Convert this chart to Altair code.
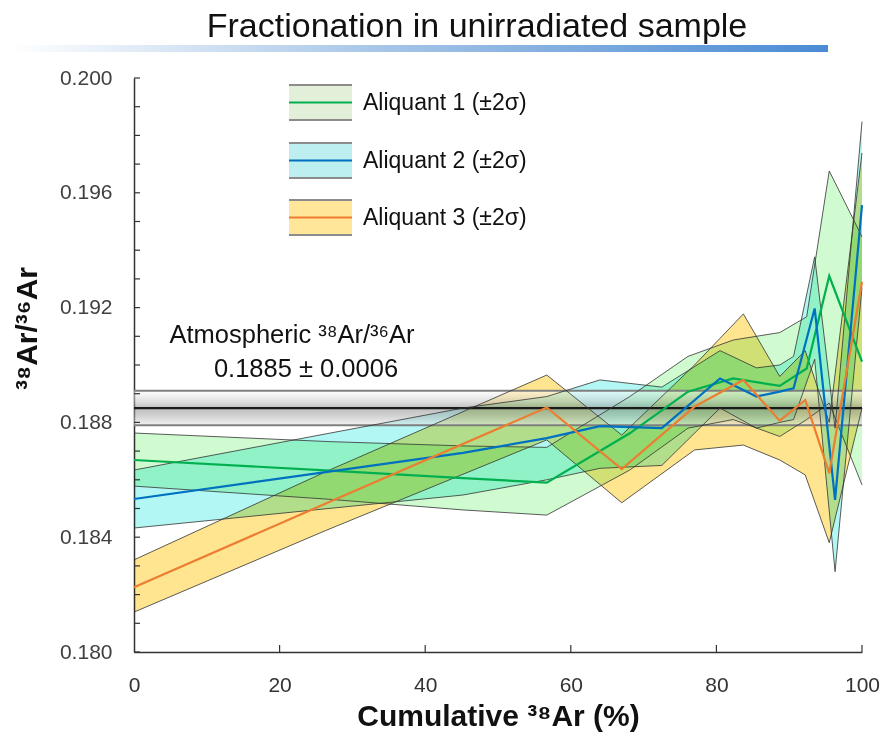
import altair as alt
import pandas as pd

# ---------------- data ----------------
a1_x = [0, 26.9, 45.2, 56.7, 68.1, 76.1, 82.3, 88.7, 92.4, 95.5, 100]
a1_y = [0.18669, 0.18632, 0.18606, 0.18590, 0.18762, 0.18907, 0.18953, 0.18927, 0.18988, 0.19310, 0.19012]
a1_hi = [0.18763, 0.18733, 0.18718, 0.18713, 0.18890, 0.19030, 0.19087, 0.19113, 0.19168, 0.19676, 0.19447]
a1_lo = [0.18578, 0.18532, 0.18495, 0.18477, 0.18634, 0.18780, 0.18810, 0.18751, 0.18810, 0.18867, 0.18582]

a2_x = [0, 45.2, 56.7, 64.0, 72.5, 80.5, 85.5, 88.7, 90.6, 93.5, 96.3, 100]
a2_y = [0.18533, 0.18694, 0.18745, 0.18787, 0.18780, 0.18953, 0.18890, 0.18907, 0.18919, 0.19197, 0.18530, 0.19557]
a2_hi = [0.18634, 0.18850, 0.18890, 0.18948, 0.18923, 0.19050, 0.18990, 0.19000, 0.19030, 0.19377, 0.18780, 0.19848]
a2_lo = [0.18432, 0.18547, 0.18600, 0.18640, 0.18650, 0.18850, 0.18780, 0.18800, 0.18810, 0.19020, 0.18280, 0.19270]

a3_x = [0, 26.5, 56.7, 67.0, 77.0, 83.7, 88.7, 92.2, 95.5, 100]
a3_y = [0.18226, 0.18519, 0.18852, 0.18637, 0.18855, 0.18948, 0.18806, 0.18878, 0.18623, 0.19290]
a3_hi = [0.18321, 0.18630, 0.18965, 0.18756, 0.19000, 0.19178, 0.18960, 0.19050, 0.18800, 0.19739]
a3_lo = [0.18139, 0.18425, 0.18739, 0.18520, 0.18704, 0.18721, 0.18669, 0.18617, 0.18381, 0.18850]

series_names = ["Aliquant 1 (±2σ)", "Aliquant 2 (±2σ)", "Aliquant 3 (±2σ)"]
fill_colors = ["#d0fad0", "#b2f7f4", "#ffe590"]
legend_fills = ["#e2efd9", "#bdeff0", "#ffe699"]
line_colors = ["#00b050", "#0070c0", "#ed7d31"]

atm_value = 0.1885
atm_err = 0.0006

x_tick_values = [0, 20, 40, 60, 80, 100]
x_inner_ticks = [20, 40, 60, 80, 100]
y_label_values = [0.180, 0.184, 0.188, 0.192, 0.196, 0.200]
y_minor_ticks = [0.180, 0.181, 0.182, 0.183, 0.184, 0.185, 0.186, 0.187, 0.188, 0.189, 0.190,
                 0.191, 0.192, 0.193, 0.194, 0.195, 0.196, 0.197, 0.198, 0.199, 0.200]

# ---------------- tables ----------------
frames = []
for name, xs, ys, his, los in zip(series_names, [a1_x, a2_x, a3_x], [a1_y, a2_y, a3_y],
                                   [a1_hi, a2_hi, a3_hi], [a1_lo, a2_lo, a3_lo]):
    frames.append(pd.DataFrame({"series": name, "x": xs, "y": ys, "hi": his, "lo": los}))
df = pd.concat(frames, ignore_index=True)

W, H = 728, 574
FONT = "Liberation Sans"
XS = alt.Scale(domain=[0, 100], nice=False, zero=False)
YS = alt.Scale(domain=[0.18, 0.2], nice=False, zero=False)

x_axis = alt.Axis(values=x_tick_values, format="d", ticks=False, grid=False,
                  title="Cumulative ³⁸Ar (%)", labelFontSize=21, labelPadding=22,
                  labelFont=FONT, labelColor="#333333", labelFlush=False,
                  titleFont=FONT, titleFontSize=30, titleFontWeight="bold", titleColor="#111111",
                  titlePadding=6, domainColor="#333333", domainWidth=1.5)
y_axis = alt.Axis(values=y_label_values, format=".3f", ticks=False, grid=False,
                  title="³⁸Ar/³⁶Ar", labelFontSize=21, labelPadding=22, labelFont=FONT,
                  labelColor="#404040", labelFlush=False,
                  titleFont=FONT, titleFontSize=30, titleFontWeight="bold", titleColor="#111111",
                  titleAngle=-90, titleX=-92, titleY=250, titleAlign="center",
                  domainColor="#333333", domainWidth=1.5)


def X(field):
    return alt.X(field, type="quantitative", scale=XS, axis=x_axis)


def Y(field):
    return alt.Y(field, type="quantitative", scale=YS, axis=y_axis)


color_fill = alt.Color("series:N", scale=alt.Scale(domain=series_names, range=fill_colors), legend=None)
color_line = alt.Color("series:N", scale=alt.Scale(domain=series_names, range=line_colors), legend=None)

base = alt.Chart(df)

areas = base.mark_area(blend="multiply", opacity=1).encode(
    x=X("x"), y=Y("lo"), y2="hi:Q", fill=color_fill, detail="series:N")

outline_hi = base.mark_line(color="#333333", strokeWidth=1, opacity=0.8).encode(
    x=X("x"), y=Y("hi"), detail="series:N")
outline_lo = base.mark_line(color="#333333", strokeWidth=1, opacity=0.8).encode(
    x=X("x"), y=Y("lo"), detail="series:N")

centers = base.mark_line(strokeWidth=2.2).encode(
    x=X("x"), y=Y("y"), color=color_line, order=alt.Order("x:Q"))

# atmospheric band
atm = pd.DataFrame({"x0": [0], "x1": [100], "lo": [atm_value - atm_err], "mid": [atm_value],
                    "hi": [atm_value + atm_err]})
atm_band = alt.Chart(atm).mark_rect(
    fill=alt.Gradient(gradient="linear", x1=0, x2=0, y1=0, y2=1,
                      stops=[alt.GradientStop(offset=0, color="#ffffff"),
                             alt.GradientStop(offset=0.3, color="#c8c8c8"),
                             alt.GradientStop(offset=0.5, color="#8a8a8a"),
                             alt.GradientStop(offset=0.7, color="#a8a8a8"),
                             alt.GradientStop(offset=1, color="#e8e8e8")]),
    opacity=0.55).encode(x=X("x0"), x2="x1:Q", y=Y("lo"), y2="hi:Q")
atm_hi = alt.Chart(atm).mark_rule(color="#7f7f7f", strokeWidth=2).encode(x=X("x0"), x2="x1:Q", y=Y("hi"))
atm_lo = alt.Chart(atm).mark_rule(color="#7f7f7f", strokeWidth=2).encode(x=X("x0"), x2="x1:Q", y=Y("lo"))
atm_mid = alt.Chart(atm).mark_rule(color="#1a1a1a", strokeWidth=2.2).encode(x=X("x0"), x2="x1:Q", y=Y("mid"))

# inward ticks
yt = alt.Chart(pd.DataFrame({"t": y_minor_ticks})).mark_rule(color="#333333", strokeWidth=1.2).encode(
    y=Y("t"), x=alt.value(0), x2=alt.value(6))
xt = alt.Chart(pd.DataFrame({"t": x_inner_ticks})).mark_rule(color="#333333", strokeWidth=1.2).encode(
    x=X("t"), y=alt.value(H), y2=alt.value(H - 7))

one = pd.DataFrame({"t": [""]})

# title + gradient underline
title = alt.Chart(pd.DataFrame({"t": ["Fractionation in unirradiated sample"]})).mark_text(
    font=FONT, fontSize=34, color="#111111", align="center", baseline="alphabetic").encode(
    x=alt.value(343), y=alt.value(-41), text="t:N")
underline = alt.Chart(one).mark_rect(
    fill=alt.Gradient(gradient="linear", x1=0, x2=1, y1=0, y2=0,
                      stops=[alt.GradientStop(offset=0, color="#ffffff"),
                             alt.GradientStop(offset=0.45, color="#a7c6e8"),
                             alt.GradientStop(offset=1, color="#4a8bd4")])).encode(
    x=alt.value(-124), x2=alt.value(694), y=alt.value(-33), y2=alt.value(-26))

# annotation
ann1 = alt.Chart(pd.DataFrame({"t": ["Atmospheric ³⁸Ar/³⁶Ar"]})).mark_text(
    font=FONT, fontSize=25.5, color="#111111", align="center").encode(
    x=alt.value(158), y=alt.value(257), text="t:N")
ann2 = alt.Chart(pd.DataFrame({"t": ["0.1885 ± 0.0006"]})).mark_text(
    font=FONT, fontSize=25.5, color="#111111", align="center").encode(
    x=alt.value(172), y=alt.value(291), text="t:N")

# custom legend
legend_layers = []
tops = [7, 65, 122]
for name, lf, lc, top in zip(series_names, legend_fills, line_colors, tops):
    legend_layers.append(alt.Chart(one).mark_rect(fill=lf).encode(
        x=alt.value(155), x2=alt.value(218), y=alt.value(top), y2=alt.value(top + 35)))
    legend_layers.append(alt.Chart(one).mark_rule(color="#8c8c8c", strokeWidth=1.8).encode(
        x=alt.value(155), x2=alt.value(218), y=alt.value(top)))
    legend_layers.append(alt.Chart(one).mark_rule(color="#8c8c8c", strokeWidth=1.8).encode(
        x=alt.value(155), x2=alt.value(218), y=alt.value(top + 35)))
    legend_layers.append(alt.Chart(one).mark_rule(color=lc, strokeWidth=2).encode(
        x=alt.value(155), x2=alt.value(218), y=alt.value(top + 17.5)))
    legend_layers.append(alt.Chart(pd.DataFrame({"t": [name]})).mark_text(
        font=FONT, fontSize=23, color="#111111", align="left", baseline="middle").encode(
        x=alt.value(229), y=alt.value(top + 18), text="t:N"))

chart = alt.layer(
    areas, atm_band, atm_hi, atm_lo, atm_mid, outline_hi, outline_lo, centers, yt, xt,
    title, underline, ann1, ann2, *legend_layers
).properties(
    width=W, height=H,
    autosize=alt.AutoSizeParams(type="none"),
    padding={"left": 134, "top": 78, "right": 21, "bottom": 86},
    background="#ffffff",
).configure_view(stroke="transparent")

chart.save("out.html", embed_options={"renderer": "svg", "actions": False})
